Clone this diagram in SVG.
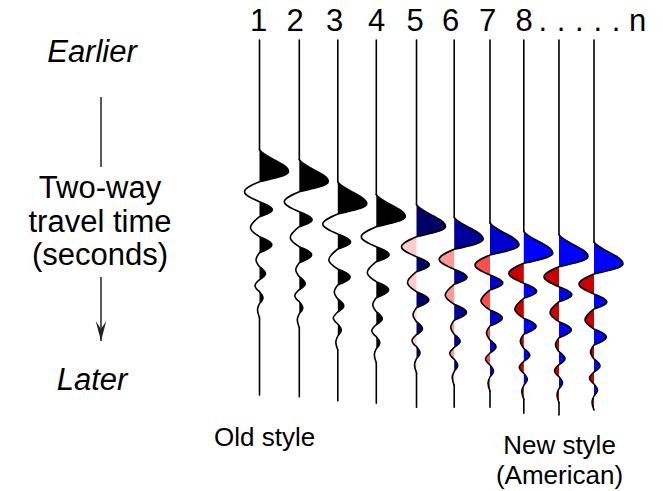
<svg xmlns="http://www.w3.org/2000/svg" xmlns:xlink="http://www.w3.org/1999/xlink" width="663" height="491" viewBox="0 0 663 491">
<style>
text{font-family:"Liberation Sans",Arial,sans-serif;fill:#000}
.big{font-size:31px}
.it{font-size:31px;font-style:italic}
.lab{font-size:26px}
.tr{fill:none;stroke:#000;stroke-width:1.6;stroke-linecap:round;stroke-linejoin:round}
.ax{fill:none;stroke:#222;stroke-width:1.5}
</style>
<defs>
<path id="wv" d="M0,-22 c4.35,7.7 29,13.64 29,22 c0,3.6 -13.77,6.66 -29,10 c-7.88,3.34 -15,6.4 -15,10 c0,3.6 7.12,6.66 15,10 c6.72,2.67 12.8,5.12 12.8,8 c0,2.52 -6.08,4.66 -12.8,7 c-4.73,3.68 -9,7.04 -9,11 c0,3.24 4.27,5.99 9,9 c6.46,2.67 12.3,5.12 12.3,8 c0,2.88 -5.840,5.33 -12.3,8 c-1.84,2.34 -3.5,4.48 -3.5,7 c0,2.52 1.66,4.66 3.5,7 c3.15,2.34 6,4.48 6,7 c0,2.16 -2.85,4 -6,6 c-2.36,2 -4.5,3.84 -4.5,6 c0,2.16 2.14,4 4.5,6 c1.84,2 3.5,3.84 3.5,6 c0,2.16 -1.66,4 -3.5,6 c-1.05,2 -2,3.84 -2,6 c0,2.88 0.95,5.33 2,8"/>
<path id="pos" d="M0,-22 c4.35,7.7 29,13.64 29,22 c0,3.6 -13.77,6.66 -29,10 Z M0,30 c6.72,2.67 12.8,5.12 12.8,8 c0,2.52 -6.08,4.66 -12.8,7 Z M0,65 c6.46,2.67 12.3,5.12 12.3,8 c0,2.88 -5.84,5.33 -12.3,8 Z M0,95 c3.15,2.34 6,4.48 6,7 c0,2.16 -2.85,4 -6,6 Z M0,120 c1.84,2 3.5,3.84 3.5,6 c0,2.16 -1.66,4 -3.5,6 Z"/>
<path id="neg" d="M0,10 c-7.88,3.34 -15,6.4 -15,10 c0,3.6 7.12,6.66 15,10 Z M0,45 c-4.73,3.68 -9,7.04 -9,11 c0,3.24 4.27,5.99 9,9 Z M0,81 c-1.84,2.34 -3.5,4.48 -3.5,7 c0,2.52 1.66,4.66 3.5,7 Z M0,108 c-2.36,2 -4.5,3.84 -4.5,6 c0,2.16 2.14,4 4.5,6 Z M0,132 c-1.05,2 -2,3.84 -2,6 c0,2.88 0.95,5.33 2,8 Z"/>
<marker id="ah" markerUnits="userSpaceOnUse" markerWidth="24" markerHeight="14" viewBox="-22 -7 24 14" refX="0" refY="0" orient="auto">
<path d="M0,0 L-20,-5.3 L-12,0 L-20,5.3 Z" fill="#222"/>
</marker>
</defs>

<g id="header">
<text class="big" y="31" text-anchor="middle"><tspan x="258.5">1</tspan><tspan x="295">2</tspan><tspan x="334.5">3</tspan><tspan x="376.5">4</tspan><tspan x="415">5</tspan><tspan x="450.5">6</tspan><tspan x="487.5">7</tspan><tspan x="524">8</tspan><tspan x="542.7">.</tspan><tspan x="561">.</tspan><tspan x="579.3">.</tspan><tspan x="597.7">.</tspan><tspan x="616">.</tspan><tspan x="637.5">n</tspan></text>
</g>

<g id="time-axis-labels">
<text class="it" x="92" y="62" text-anchor="middle">Earlier</text>
<text class="big" x="100" y="197.5" text-anchor="middle">Two-way</text>
<text class="big" x="100" y="231.5" text-anchor="middle">travel time</text>
<text class="big" x="100" y="265" text-anchor="middle">(seconds)</text>
<text class="it" x="92" y="390" text-anchor="middle">Later</text>
</g>

<g id="connectors">
<line class="ax" x1="101" y1="97" x2="101" y2="167"/>
<line class="ax" x1="101" y1="277" x2="101" y2="341" marker-end="url(#ah)"/>
</g>

<g id="trace1">
<use href="#pos" transform="translate(259.5,171.7)" fill="#000"/>
<use href="#wv" class="tr" transform="translate(259.5,171.7)"/>
<path class="tr" d="M259.5,40 V149.7 M259.5,317.7 V395"/>
</g>
<g id="trace2">
<use href="#pos" transform="translate(299.3,181.7)" fill="#000"/>
<use href="#wv" class="tr" transform="translate(299.3,181.7)"/>
<path class="tr" d="M299.3,40 V159.7 M299.3,327.7 V396.7"/>
</g>
<g id="trace3">
<use href="#pos" transform="translate(337.8,204)" fill="#000"/>
<use href="#wv" class="tr" transform="translate(337.8,204)"/>
<path class="tr" d="M337.8,40 V182 M337.8,350 V400.7"/>
</g>
<g id="trace4">
<use href="#pos" transform="translate(376.3,216.7)" fill="#000"/>
<use href="#wv" class="tr" transform="translate(376.3,216.7)"/>
<path class="tr" d="M376.3,40 V194.7 M376.3,362.7 V403.3"/>
</g>
<g id="trace5">
<use href="#pos" transform="translate(416.5,226.7)" fill="#000066"/>
<use href="#neg" transform="translate(416.5,226.7)" fill="#ffcccc"/>
<use href="#wv" class="tr" transform="translate(416.5,226.7)"/>
<path class="tr" d="M416.5,40 V204.7 M416.5,372.7 V407.3"/>
</g>
<g id="trace6">
<use href="#pos" transform="translate(454.2,239.3)" fill="#000099"/>
<use href="#neg" transform="translate(454.2,239.3)" fill="#ff9999"/>
<use href="#wv" class="tr" transform="translate(454.2,239.3)"/>
<path class="tr" d="M454.2,40 V217.3 M454.2,385.3 V407.3"/>
</g>
<g id="trace7">
<use href="#pos" transform="translate(490,245)" fill="#0000cc"/>
<use href="#neg" transform="translate(490,245)" fill="#ff4d4d"/>
<use href="#wv" class="tr" transform="translate(490,245)"/>
<path class="tr" d="M490,40 V223 M490,391 V407.3"/>
</g>
<g id="trace8">
<use href="#pos" transform="translate(523.8,253.3)" fill="#0000ff"/>
<use href="#neg" transform="translate(523.8,253.3)" fill="#cc0000"/>
<use href="#wv" class="tr" transform="translate(523.8,253.3)"/>
<path class="tr" d="M523.8,40 V231.3 M523.8,399.3 V413.3"/>
</g>
<g id="trace9">
<use href="#pos" transform="translate(559,256.7)" fill="#0000ff"/>
<use href="#neg" transform="translate(559,256.7)" fill="#cc0000"/>
<use href="#wv" class="tr" transform="translate(559,256.7)"/>
<path class="tr" d="M559,40 V234.7 M559,402.7 V415"/>
</g>
<g id="trace10">
<use href="#pos" transform="translate(594,264)" fill="#0000ff"/>
<use href="#neg" transform="translate(594,264)" fill="#cc0000"/>
<use href="#wv" class="tr" transform="translate(594,264)"/>
<path class="tr" d="M594,40 V242"/>
</g>

<g id="captions">
<text class="lab" x="214" y="446">Old style</text>
<text class="lab" x="559.5" y="454" text-anchor="middle">New style</text>
<text class="lab" x="559.5" y="484" text-anchor="middle">(American)</text>
</g>
</svg>
